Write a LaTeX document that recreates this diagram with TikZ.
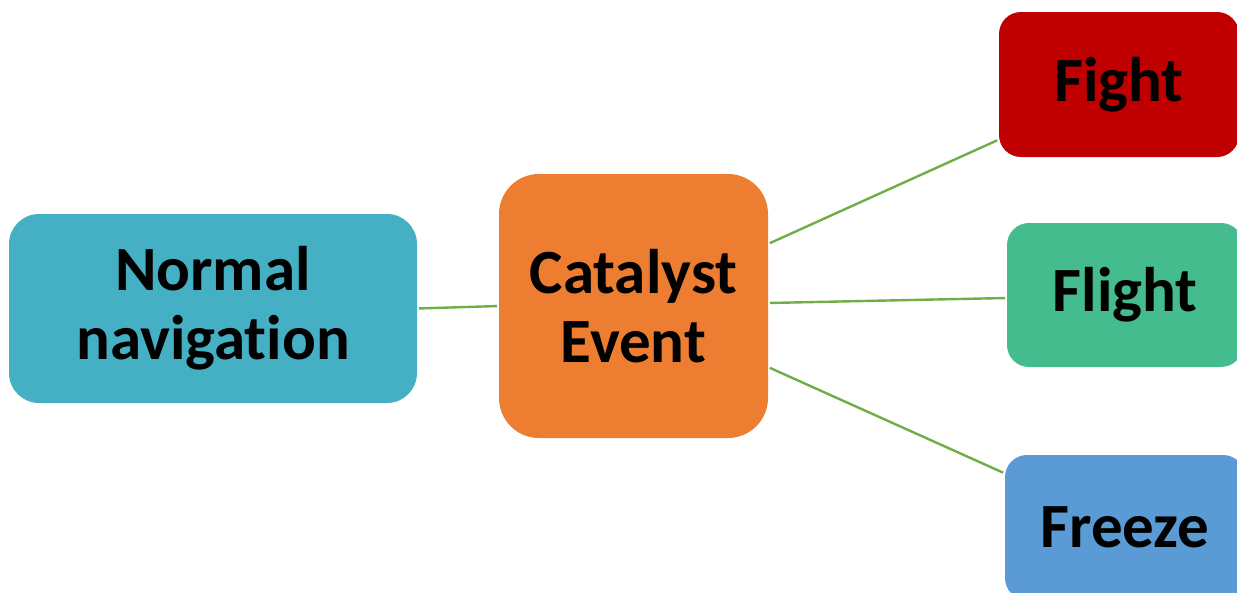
\documentclass[tikz,border=0pt]{standalone}
\usepackage{fontspec}
\setmainfont{Carlito}[Ligatures=NoCommon]
\definecolor{navblue}{HTML}{45AFC3}
\definecolor{catorange}{HTML}{ED7D31}
\definecolor{fightred}{HTML}{C00000}
\definecolor{flightgreen}{HTML}{45BC8D}
\definecolor{freezeblue}{HTML}{5B9BD5}
\definecolor{linkgreen}{HTML}{70AD47}
\begin{document}
\begin{tikzpicture}[x=1pt,y=-1pt,
  box/.style={rounded corners=#1, inner sep=0pt, outer sep=0pt, align=center,
    font=\fontsize{63}{69}\selectfont\bfseries, text=black},
  link/.style={draw=linkgreen, line width=2.4pt, shorten <=2pt, shorten >=2pt}]
  \useasboundingbox (0,0) rectangle (1237,592);
  \begin{scope}
  \clip (0,0) rectangle (1237,592);
  \node[box=30pt, fill=navblue, minimum width=408pt, minimum height=189pt]
    (nav) at (213,308.5) {Normal\\navigation};
  \node[box=40pt, fill=catorange, minimum width=269pt, minimum height=264pt]
    (cat) at (633.5,306) {Catalyst\\Event};
  \node[box=22pt, fill=fightred, minimum width=240pt, minimum height=145pt]
    (fight) at (1119,84.5) {Fight};
  \node[box=22pt, fill=flightgreen, minimum width=236pt, minimum height=144pt]
    (flight) at (1125,295) {Flight};
  \node[box=22pt, fill=freezeblue, minimum width=240pt, minimum height=145pt]
    (freeze) at (1125,527.5) {Freeze};

  \draw[link] (nav.east) -- (cat.west);
  \draw[link] ([yshift=62pt]cat.east) -- ([yshift=-55pt]fight.west);
  \draw[link] ([yshift=3pt]cat.east) -- ([yshift=-3pt]flight.west);
  \draw[link] ([yshift=-61pt]cat.east) -- ([yshift=54pt]freeze.west);
  \end{scope}
\end{tikzpicture}
\end{document}
